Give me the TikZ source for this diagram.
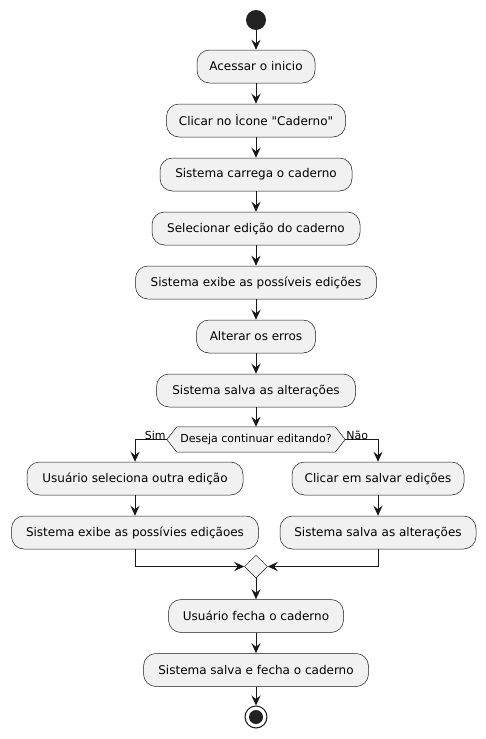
\documentclass[tikz,border=0pt]{standalone}
\usepackage{fontspec}
\setmainfont{DejaVu Sans}
\newfontfamily\plaindv{DejaVu Sans}
\usetikzlibrary{shapes.geometric,arrows.meta,backgrounds}
\definecolor{umlline}{HTML}{181818}
\definecolor{umlfill}{HTML}{F1F1F1}
\definecolor{umldot}{HTML}{222222}
\tikzset{
  actbox/.style={draw=umlline, line width=0.5pt, fill=umlfill, rounded corners=12.5pt,
    minimum height=33pt, inner sep=0pt, font=\plaindv\fontsize{12}{14}\selectfont},
  flow/.style={draw=umlline, line width=1pt, -{Stealth[length=10pt,width=9pt,inset=3.5pt]}},
  lbl/.style={font=\plaindv\fontsize{11}{13}\selectfont, inner sep=1pt},
}
\begin{document}
\begin{tikzpicture}[x=1pt,y=-1pt]
\useasboundingbox (0,0) rectangle (485,739);
\node[circle, fill=umldot, minimum size=20pt, inner sep=0pt] (start) at (256,20) {};
\node[actbox, minimum width=118pt] (b1) at (256,66.5) {Acessar o inicio};
\node[actbox, minimum width=179pt] (b2) at (256,120.5) {Clicar no Ìcone "Caderno"};
\node[actbox, minimum width=192pt] (b3) at (256,174.5) {Sistema carrega o caderno};
\node[actbox, minimum width=208pt] (b4) at (256,228.5) {Selecionar edição do caderno};
\node[actbox, minimum width=241pt] (b5) at (256,282.5) {Sistema exibe as possíveis edições};
\node[actbox, minimum width=119pt] (b6) at (256,336.5) {Alterar os erros};
\node[actbox, minimum width=199pt] (b7) at (256,390.5) {Sistema salva as alterações};
\node[minimum width=178pt, minimum height=25pt, inner sep=0pt, font=\plaindv\fontsize{11}{13}\selectfont] (dec) at (256,439.5) {Deseja continuar editando?};
\begin{scope}[on background layer]
\fill[white] (0,0) rectangle (485,739);
\draw[draw=umlline, line width=0.5pt, fill=umlfill]
  (dec.west) -- ([xshift=10pt]dec.north west) -- ([xshift=-10pt]dec.north east) -- (dec.east)
  -- ([xshift=-10pt]dec.south east) -- ([xshift=10pt]dec.south west) -- cycle;
\end{scope}
\node[actbox, minimum width=216pt] (l1) at (135,478.5) {Usuário seleciona outra edição};
\node[actbox, minimum width=247pt] (l2) at (135,532.5) {Sistema exibe as possívies ediçãoes};
\node[actbox, minimum width=172pt] (r1) at (378,478.5) {Clicar em salvar edições};
\node[actbox, minimum width=196pt] (r2) at (378,532.5) {Sistema salva as alterações};
\node[diamond, draw=umlline, line width=0.5pt, fill=umlfill, minimum width=23pt, minimum height=23pt, inner sep=0pt] (merge) at (256,566.5) {};
\node[actbox, minimum width=175pt] (f1) at (256,616) {Usuário fecha o caderno};
\node[actbox, minimum width=225pt] (f2) at (256,670) {Sistema salva e fecha o caderno};
\node[circle, draw=umlline, line width=1pt, fill=white, minimum size=22pt, inner sep=0pt] (end) at (256,717) {};
\node[circle, fill=umldot, minimum size=14pt, inner sep=0pt] (endin) at (end.center) {};

\draw[flow] (start) -- (b1);
\draw[flow] (b1) -- (b2);
\draw[flow] (b2) -- (b3);
\draw[flow] (b3) -- (b4);
\draw[flow] (b4) -- (b5);
\draw[flow] (b5) -- (b6);
\draw[flow] (b6) -- (b7);
\draw[flow] (b7) -- (dec.north);
\draw[flow] (dec.west) -| (l1.north);
\draw[flow] (dec.east) -| (r1.north);
\node[lbl, anchor=south east] (sim) at ([yshift=-1pt]dec.west) {Sim};
\node[lbl, anchor=south west] (nao) at ([yshift=-1pt]dec.east) {Não};
\draw[flow] (l1) -- (l2);
\draw[flow] (r1) -- (r2);
\draw[flow] (l2.south) |- (merge.west);
\draw[flow] (r2.south) |- (merge.east);
\draw[flow] (merge) -- (f1);
\draw[flow] (f1) -- (f2);
\draw[flow] (f2) -- (end);
\end{tikzpicture}
\end{document}
